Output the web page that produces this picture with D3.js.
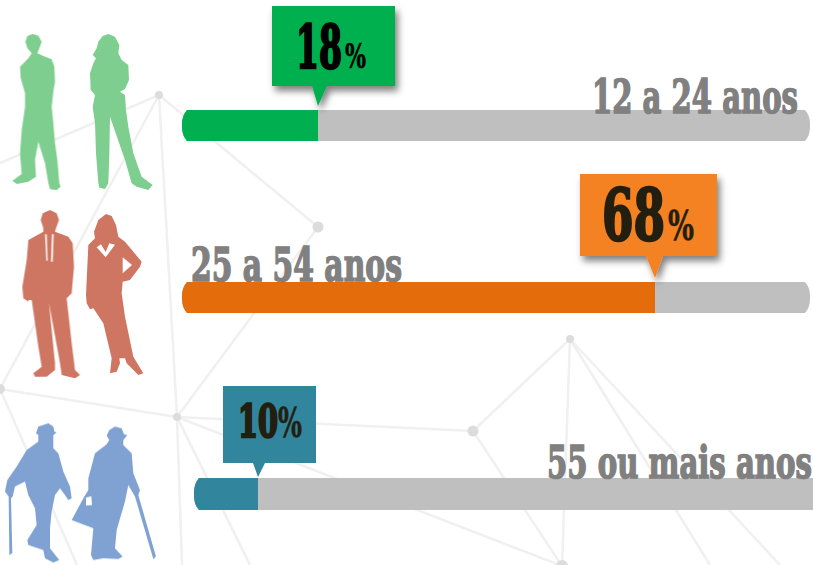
<!DOCTYPE html>
<html>
<head>
<meta charset="utf-8">
<script src="https://cdnjs.cloudflare.com/ajax/libs/d3/7.8.5/d3.min.js"></script>
<style>
html, body { margin: 0; padding: 0; background: #fff; overflow: hidden; }
svg { display: block; }
text { font-family: "DejaVu Serif", serif; font-weight: bold; }
</style>
</head>
<body>
<script>
// data
var ageLabels = ["12 a 24 anos", "25 a 54 anos", "55 ou mais anos"];
var shares = [18, 68, 10];
var fillColors = ["#00b050", "#e46c0a", "#31859c"];
var boxColors = ["#00b050", "#f58220", "#31859c"];
var numberColors = ["#000000", "#231f10", "#231f10"];
var figureColors = ["#7ecf8f", "#cf7663", "#7fa2d2"];

var width = 813;
var height = 565;

// the bars are not to scale in the original, so the scale goes through the 3 values
var x = d3.scaleLinear()
    .domain([10, 18, 68])
    .range([258, 318, 655]);

var svg = d3.select("body")
    .append("svg")
    .attr("width", width)
    .attr("height", height);

var defs = svg.append("defs");
var filter = defs.append("filter")
    .attr("id", "shadow")
    .attr("x", "-20%").attr("y", "-20%")
    .attr("width", "140%").attr("height", "150%");
filter.append("feDropShadow")
    .attr("dx", 3).attr("dy", 5)
    .attr("stdDeviation", 3.5)
    .attr("flood-color", "#000")
    .attr("flood-opacity", 0.5);
defs.append("filter")
    .attr("id", "soft")
    .append("feGaussianBlur")
    .attr("stdDeviation", 1.8);

// background network
var nodes = [[159, 95, 4], [318, 227, 5.5], [0, 389, 5], [177, 417, 4], [473, 431, 5.5], [570, 339, 4], [562, 566, 6]];
var links = [
    [159, 95, 0, 163], [159, 95, 318, 227], [159, 95, 177, 417], [159, 95, 0, 389],
    [318, 227, 177, 417], [0, 389, 177, 417], [177, 417, 473, 431], [473, 431, 570, 339],
    [177, 417, 182, 565], [0, 389, 77, 565], [177, 417, 250, 565], [177, 417, 562, 566],
    [473, 431, 562, 566], [570, 339, 562, 566], [570, 339, 710, 565], [570, 339, 780, 565]
];

var bg = svg.append("g");
bg.selectAll("line").data(links).enter().append("line")
    .attr("x1", function(d) { return d[0]; })
    .attr("y1", function(d) { return d[1]; })
    .attr("x2", function(d) { return d[2]; })
    .attr("y2", function(d) { return d[3]; })
    .attr("stroke", "#f0f0f0")
    .attr("stroke-width", 2.5);
bg.selectAll("circle").data(nodes).enter().append("circle")
    .attr("cx", function(d) { return d[0]; })
    .attr("cy", function(d) { return d[1]; })
    .attr("r", function(d) { return d[2]; })
    .attr("fill", "#dcdcdc");

// silhouettes, outlined on a 3x crop of each row
var figures = [
    { row: 0, dy: 20, pts: [[98,42],[115,47],[125,65],[118,85],[112,100],[130,108],[155,118],[163,140],[165,185],[160,215],[155,260],[160,310],[165,370],[172,420],[178,490],[182,500],[170,510],[150,508],[145,490],[135,430],[115,365],[105,420],[108,470],[85,485],[50,492],[37,482],[65,462],[60,400],[65,330],[75,260],[75,220],[62,175],[60,140],[85,115],[95,100],[82,85],[76,65],[82,48]] },
    { row: 0, dy: 20, pts: [[325,42],[345,50],[358,75],[355,100],[365,120],[385,135],[387,180],[375,207],[360,215],[375,225],[378,270],[385,320],[400,400],[425,470],[458,495],[445,510],[410,500],[395,490],[375,420],[330,290],[328,400],[325,490],[315,507],[298,503],[295,490],[288,400],[285,310],[278,260],[285,225],[272,210],[270,160],[280,130],[288,115],[278,105],[290,85],[295,65],[308,48]] },
    { row: 1, dy: 200, pts: [[150,30],[170,40],[177,60],[168,85],[165,95],[205,110],[218,130],[222,200],[215,280],[200,295],[215,430],[225,510],[240,525],[225,535],[185,525],[180,490],[147,310],[165,490],[165,510],[140,530],[105,530],[100,520],[125,500],[115,440],[95,300],[85,300],[85,305],[70,295],[67,260],[80,180],[85,120],[130,95],[130,85],[122,60],[128,40]] },
    { row: 1, dy: 200, pts: [[318,42],[335,48],[348,75],[355,110],[375,125],[425,185],[420,200],[390,240],[368,245],[365,280],[375,350],[400,470],[430,520],[415,525],[380,490],[375,475],[358,475],[360,490],[350,515],[330,520],[335,475],[310,370],[280,325],[270,328],[260,310],[258,285],[265,135],[285,115],[282,95],[295,60]] },
    { row: 2, dy: 385, pts: [[145,115],[160,125],[163,140],[170,143],[160,150],[160,190],[175,205],[190,260],[210,305],[215,340],[205,345],[195,330],[180,310],[165,330],[155,380],[150,430],[150,490],[178,525],[160,533],[135,520],[130,495],[85,480],[82,465],[110,420],[105,370],[85,330],[75,290],[45,305],[38,335],[33,340],[37,505],[28,510],[26,335],[15,320],[22,285],[50,245],[80,195],[115,170],[115,150],[108,145],[115,125]] },
    { row: 2, dy: 385, pts: [[345,125],[365,130],[372,148],[382,150],[370,165],[370,180],[395,205],[400,265],[420,315],[415,330],[468,515],[460,522],[405,335],[385,300],[375,350],[350,435],[345,490],[368,515],[355,522],[310,520],[280,525],[273,510],[280,430],[215,405],[250,340],[265,315],[265,280],[285,205],[320,178],[328,165],[320,152],[328,135]] }
];
// white cut-outs: tie, collar, the gap under the arm, bag handle
var cuts = [
    { dy: 200, pts: [[135,103],[140,103],[143,182],[139,182]] },
    { dy: 200, pts: [[156,103],[161,103],[158,185],[153,185]] },
    { dy: 200, pts: [[290,142],[303,133],[317,156],[328,130],[345,134],[317,172]] },
    { dy: 200, pts: [[368,172],[396,195],[368,220]] },
    { dy: 385, pts: [[258,338],[274,334],[276,360],[258,362]] }
];

var outline = d3.line();
var people = svg.append("g").attr("filter", "url(#soft)")
    .attr("transform", "scale(0.3333)");
people.selectAll("path.figure").data(figures).enter().append("path")
    .attr("class", "figure")
    .attr("transform", function(d) { return "translate(0," + d.dy * 3 + ")"; })
    .attr("d", function(d) { return outline(d.pts) + "Z"; })
    .attr("fill", function(d) { return figureColors[d.row]; });
people.selectAll("path.cut").data(cuts).enter().append("path")
    .attr("class", "cut")
    .attr("transform", function(d) { return "translate(0," + d.dy * 3 + ")"; })
    .attr("d", function(d) { return outline(d.pts) + "Z"; })
    .attr("fill", "#fff");

// layout of the 3 rows
var rows = [
    { start: 182, end: 810, top: 110, bottom: 141, box: [272, 6, 395, 86], base: [312, 327], tip: 106,
      labelX: 592, labelW: 206, labelY: 113, labelSize: 46,
      numX: 296, numW: 46, numY: 68, numSize: 59, pctX: 345, pctW: 21, pctSize: 34, shadow: true },
    { start: 182, end: 810, top: 282, bottom: 313, box: [580, 174, 717, 256], base: [646, 663], tip: 278,
      labelX: 191, labelW: 211, labelY: 281, labelSize: 46,
      numX: 602, numW: 63, numY: 240, numSize: 71, pctX: 668, pctW: 26, pctSize: 41, shadow: true },
    { start: 194, end: 830, top: 478, bottom: 510, box: [223, 386, 316, 463], base: [253, 265], tip: 477,
      labelX: 547, labelW: 265, labelY: 478, labelSize: 44,
      numX: 238, numW: 40, numY: 437, numSize: 45, pctX: 278, pctW: 24, pctSize: 41, shadow: false }
];

// bar shape with the bulged ends
function barPath(x0, x1, y0, y1, roundLeft, roundRight) {
    var p = d3.path();
    var ym = (y0 + y1) / 2;
    if (roundLeft) {
        p.moveTo(x0 + 5, y0);
    } else {
        p.moveTo(x0, y0);
    }
    if (roundRight) {
        p.lineTo(x1 - 5, y0);
        p.quadraticCurveTo(x1 + 0.5, y0 + 6, x1, ym);
        p.quadraticCurveTo(x1 + 0.5, y1 - 6, x1 - 5, y1);
    } else {
        p.lineTo(x1, y0);
        p.lineTo(x1, y1);
    }
    if (roundLeft) {
        p.lineTo(x0 + 5, y1);
        p.quadraticCurveTo(x0 - 0.5, y1 - 6, x0, ym);
        p.quadraticCurveTo(x0 - 0.5, y0 + 6, x0 + 5, y0);
    } else {
        p.lineTo(x0, y1);
    }
    p.closePath();
    return p.toString();
}

// squeeze a text horizontally to the width it has in the picture
function fitText(sel, xOf, wOf, yOf) {
    sel.attr("transform", function(d, i) {
        var natural = this.getComputedTextLength();
        return "translate(" + xOf(d, i) + "," + yOf(d, i) + ") scale(" + wOf(d, i) / natural + ",1)";
    });
}

var row = svg.selectAll("g.row")
    .data(rows)
    .enter()
    .append("g")
    .attr("class", "row");

row.append("path")
    .attr("d", function(d) { return barPath(d.start, d.end, d.top, d.bottom, true, true); })
    .attr("fill", "#bfbfbf");

row.append("path")
    .attr("d", function(d, i) { return barPath(d.start, x(shares[i]), d.top, d.bottom, true, false); })
    .attr("fill", function(d, i) { return fillColors[i]; });

row.append("text")
    .attr("font-size", function(d) { return d.labelSize; })
    .attr("fill", "#808080")
    .attr("stroke", "#808080")
    .attr("stroke-width", 1.7)
    .text(function(d, i) { return ageLabels[i]; })
    .call(fitText, function(d) { return d.labelX; }, function(d) { return d.labelW; }, function(d) { return d.labelY; });

// callout box with its pointer on the end of the fill
row.append("path")
    .attr("d", function(d, i) {
        var b = d.box;
        return "M" + b[0] + "," + b[1] + "H" + b[2] + "V" + b[3] + "H" + d.base[1] +
            "L" + x(shares[i]) + "," + d.tip + "L" + d.base[0] + "," + b[3] + "H" + b[0] + "Z";
    })
    .attr("fill", function(d, i) { return boxColors[i]; })
    .attr("filter", function(d) { return d.shadow ? "url(#shadow)" : null; });

row.append("text")
    .attr("font-size", function(d) { return d.numSize; })
    .attr("fill", function(d, i) { return numberColors[i]; })
    .attr("stroke", function(d, i) { return numberColors[i]; })
    .attr("stroke-width", 2.6)
    .text(function(d, i) { return shares[i]; })
    .call(fitText, function(d) { return d.numX; }, function(d) { return d.numW; }, function(d) { return d.numY; });

row.append("text")
    .attr("font-size", function(d) { return d.pctSize; })
    .attr("fill", function(d, i) { return numberColors[i]; })
    .attr("stroke", function(d, i) { return numberColors[i]; })
    .attr("stroke-width", 0.6)
    .text("%")
    .call(fitText, function(d) { return d.pctX; }, function(d) { return d.pctW; }, function(d) { return d.numY; });
</script>
</body>
</html>
